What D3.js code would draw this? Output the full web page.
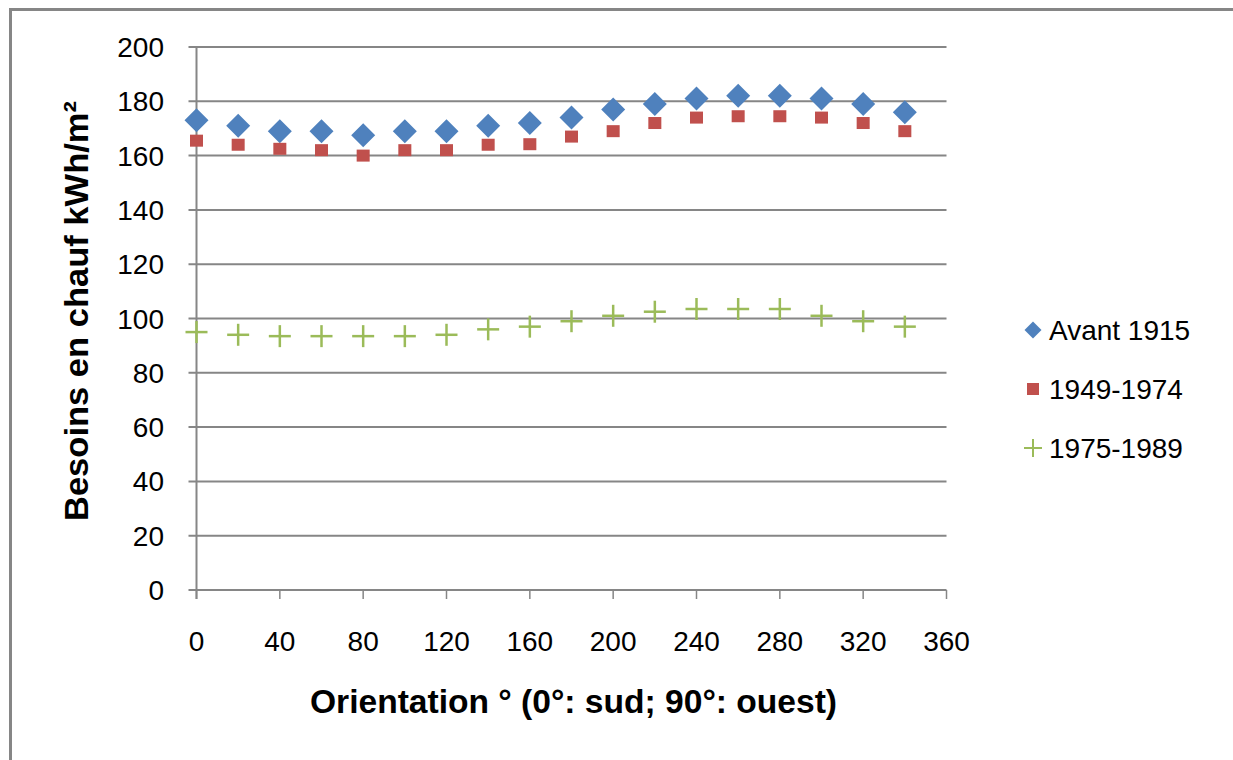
<!DOCTYPE html>
<html>
<head>
<meta charset="utf-8">
<script src="https://cdn.jsdelivr.net/npm/d3@7"></script>
<style>
  html, body { margin: 0; padding: 0; background: #fff; }
  svg { display: block; }
</style>
</head>
<body>
<svg id="chart" width="1233" height="760"></svg>
<script>
// ---- Data ----
const orientations = [0, 20, 40, 60, 80, 100, 120, 140, 160, 180, 200, 220, 240, 260, 280, 300, 320, 340];
const avant1915 = [173, 171, 169, 169, 167.5, 169, 169, 171, 172, 174, 177, 179, 181, 182, 182, 181, 179, 176];
const s1949_1974 = [165.5, 164, 162.5, 162, 160, 162, 162, 164, 164.2, 167, 169, 172, 174, 174.5, 174.5, 174, 172, 169];
const s1975_1989 = [95, 94, 93.5, 93.5, 93.5, 93.5, 94, 96, 97, 99, 101, 102.5, 103.5, 103.5, 103.5, 101, 99, 97];
const yTicks = [0, 20, 40, 60, 80, 100, 120, 140, 160, 180, 200];
const xTicks = [0, 40, 80, 120, 160, 200, 240, 280, 320, 360];
const seriesNames = ["Avant 1915", "1949-1974", "1975-1989"];
const xTitle = "Orientation ° (0°: sud; 90°: ouest)";
const yTitle = "Besoins en chauf kWh/m²";

const colors = ["#4F81BD", "#C0504D", "#9BBB59"];
const grid = "#868686";

const svg = d3.select("#chart");

// outer border (top + left)
svg.append("line").attr("x1", 10).attr("y1", 9.5).attr("x2", 1233).attr("y2", 9.5)
  .attr("stroke", grid).attr("stroke-width", 3);
svg.append("line").attr("x1", 10.5).attr("y1", 8).attr("x2", 10.5).attr("y2", 760)
  .attr("stroke", grid).attr("stroke-width", 3);

const x = d3.scaleLinear().domain([0, 360]).range([196.5, 946.5]);
const y = d3.scaleLinear().domain([0, 200]).range([590, 47]);

// gridlines + y axis
const yAxis = d3.axisLeft(y).tickValues(yTicks).tickSize(0).tickPadding(0).tickFormat(d3.format("d"));
const gY = svg.append("g").attr("transform", `translate(${x(0)},0)`);
gY.selectAll("line.grid").data(yTicks).enter().append("line")
  .attr("class", "grid")
  .attr("x1", -8).attr("x2", x(360) - x(0))
  .attr("y1", d => y(d)).attr("y2", d => y(d))
  .attr("stroke", grid).attr("stroke-width", 2);
gY.append("line").attr("x1", 0).attr("x2", 0).attr("y1", y(200)).attr("y2", y(0) + 9)
  .attr("stroke", grid).attr("stroke-width", 2);
gY.selectAll("text.yl").data(yTicks).enter().append("text")
  .attr("class", "yl")
  .attr("x", 164 - x(0)).attr("y", d => y(d))
  .attr("dy", "0.36em")
  .attr("text-anchor", "end")
  .attr("font-family", "Liberation Sans, Arial, sans-serif")
  .attr("font-size", 28)
  .attr("fill", "#000")
  .text(d => d);

// x axis ticks and labels
const gX = svg.append("g");
gX.selectAll("line.xt").data(xTicks).enter().append("line")
  .attr("x1", d => x(d)).attr("x2", d => x(d))
  .attr("y1", y(0)).attr("y2", y(0) + 9)
  .attr("stroke", grid).attr("stroke-width", 1.5);
gX.selectAll("text.xl").data(xTicks).enter().append("text")
  .attr("x", d => x(d)).attr("y", 651)
  .attr("text-anchor", "middle")
  .attr("font-family", "Liberation Sans, Arial, sans-serif")
  .attr("font-size", 28)
  .attr("fill", "#000")
  .text(d => d);

// axis titles
svg.append("text")
  .attr("x", (x(0) + x(360)) / 2 + 2).attr("y", 713)
  .attr("text-anchor", "middle")
  .attr("font-family", "Liberation Sans, Arial, sans-serif")
  .attr("font-weight", "bold")
  .attr("font-size", 33)
  .attr("textLength", 527).attr("lengthAdjust", "spacingAndGlyphs")
  .text(xTitle);

svg.append("text")
  .attr("transform", "translate(88,311) rotate(-90)")
  .attr("text-anchor", "middle")
  .attr("font-family", "Liberation Sans, Arial, sans-serif")
  .attr("font-weight", "bold")
  .attr("font-size", 33)
  .attr("textLength", 420).attr("lengthAdjust", "spacingAndGlyphs")
  .text(yTitle);

// markers
const diamond = d3.symbol().type(d3.symbolDiamond2);
const plot = svg.append("g");

function diamondPath(r) {
  return `M0,${-r}L${r},0L0,${r}L${-r},0Z`;
}

plot.selectAll("path.s1").data(orientations).enter().append("path")
  .attr("transform", (d, i) => `translate(${x(d)},${y(avant1915[i])})`)
  .attr("d", diamondPath(12))
  .attr("fill", colors[0]);

plot.selectAll("rect.s2").data(orientations).enter().append("rect")
  .attr("x", d => x(d) - 6.5)
  .attr("y", (d, i) => y(s1949_1974[i]) - 6)
  .attr("width", 13).attr("height", 12)
  .attr("fill", colors[1]);

const crosses = plot.selectAll("g.s3").data(orientations).enter().append("g")
  .attr("transform", (d, i) => `translate(${x(d)},${y(s1975_1989[i])})`);
crosses.append("line").attr("x1", -11).attr("x2", 11).attr("y1", 0).attr("y2", 0)
  .attr("stroke", colors[2]).attr("stroke-width", 2.5);
crosses.append("line").attr("x1", 0).attr("x2", 0).attr("y1", -11).attr("y2", 11)
  .attr("stroke", colors[2]).attr("stroke-width", 2.5);

// legend
const legendY = [330, 389, 448];
const lg = svg.append("g");
seriesNames.forEach((name, i) => {
  const cy = legendY[i];
  if (i === 0) {
    lg.append("path").attr("transform", `translate(1033,${cy})`).attr("d", diamondPath(8.5)).attr("fill", colors[0]);
  } else if (i === 1) {
    lg.append("rect").attr("x", 1027).attr("y", cy - 6).attr("width", 12).attr("height", 12).attr("fill", colors[1]);
  } else {
    lg.append("line").attr("x1", 1024).attr("x2", 1042).attr("y1", cy).attr("y2", cy).attr("stroke", colors[2]).attr("stroke-width", 2);
    lg.append("line").attr("x1", 1033).attr("x2", 1033).attr("y1", cy - 9).attr("y2", cy + 9).attr("stroke", colors[2]).attr("stroke-width", 2);
  }
  lg.append("text")
    .attr("x", 1049).attr("y", cy + 10)
    .attr("font-family", "Liberation Sans, Arial, sans-serif")
    .attr("font-size", 28)
    .attr("fill", "#000")
    .text(name);
});
</script>
</body>
</html>
